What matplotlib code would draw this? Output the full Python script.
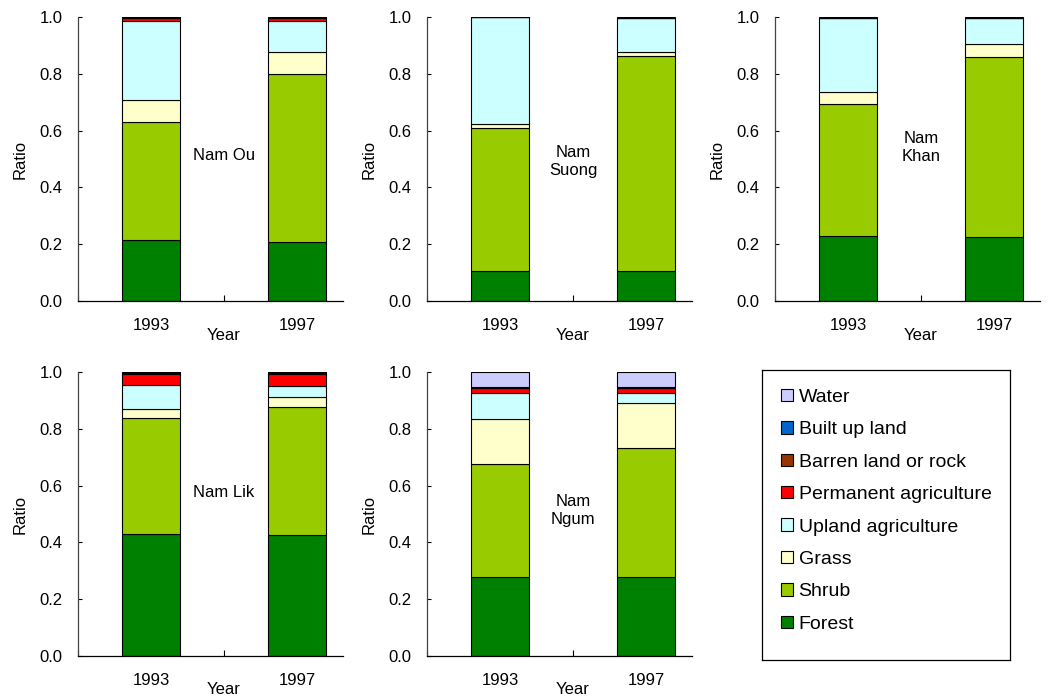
import matplotlib
matplotlib.use("Agg")
import matplotlib.pyplot as plt
from matplotlib.patches import Patch
import numpy as np

plt.rcParams['font.family'] = ['Liberation Sans', 'DejaVu Sans']

years = ["1993", "1997"]
classes = ["Forest", "Shrub", "Grass", "Upland agriculture", "Permanent agriculture",
           "Barren land or rock", "Built up land", "Water"]
colors = ["#008000", "#99CC00", "#FFFFCC", "#CCFFFF", "#FF0000", "#993300", "#0066CC", "#CCCCFF"]

# fractions per class (order as in `classes`), for 1993 and 1997
nam_ou = [[0.215, 0.208], [0.415, 0.592], [0.078, 0.078], [0.278, 0.108],
          [0.009, 0.009], [0.003, 0.003], [0.002, 0.002], [0.0, 0.0]]
nam_suong = [[0.106, 0.106], [0.502, 0.757], [0.014, 0.015], [0.378, 0.117],
             [0.0, 0.001], [0.0, 0.001], [0.0, 0.003], [0.0, 0.0]]
nam_khan = [[0.228, 0.225], [0.465, 0.635], [0.044, 0.044], [0.260, 0.092],
            [0.0, 0.0], [0.001, 0.001], [0.002, 0.003], [0.0, 0.0]]
nam_lik = [[0.430, 0.426], [0.407, 0.452], [0.033, 0.033], [0.084, 0.040],
           [0.038, 0.041], [0.003, 0.003], [0.005, 0.005], [0.0, 0.0]]
nam_ngum = [[0.278, 0.278], [0.397, 0.455], [0.159, 0.157], [0.091, 0.035],
            [0.018, 0.018], [0.002, 0.002], [0.003, 0.003], [0.052, 0.052]]

panels = [
    ("Nam Ou", nam_ou, 0.514),
    ("Nam\nSuong", nam_suong, 0.49),
    ("Nam\nKhan", nam_khan, 0.54),
    ("Nam Lik", nam_lik, 0.577),
    ("Nam\nNgum", nam_ngum, 0.514),
]

W, H = 1061, 698
fig = plt.figure(figsize=(W / 100, H / 100), dpi=100)

lefts = [78, 427, 775]
tops = [17, 372]
aw, ah = 265, 284

for i, (name, data, ty) in enumerate(panels):
    r, c = divmod(i, 3)
    l = lefts[c]
    t = tops[r]
    ax = fig.add_axes([l / W, 1 - (t + ah) / H, aw / W, ah / H])
    x = np.arange(len(years))
    bottom = np.zeros(len(years))
    for cls, col, vals in zip(classes, colors, data):
        vals = np.array(vals)
        ax.bar(x, vals, width=0.4, bottom=bottom, color=col, edgecolor="black",
               linewidth=0.8)
        bottom += vals
    ax.set_xlim(-0.5, 1.315)
    ax.set_ylim(0, 1.0)
    ax.set_yticks(np.arange(0, 1.01, 0.2))
    ax.set_yticklabels([f"{v:.1f}" for v in np.arange(0, 1.01, 0.2)])
    ax.set_xticks(x)
    ax.set_xticklabels(years)
    ax.set_xticks([-0.5, 0.5], minor=True)
    ax.tick_params(axis="x", which="major", length=0, pad=12, labelsize=12)
    ax.tick_params(axis="x", which="minor", direction="in", length=4, width=0.8)
    ax.tick_params(axis="y", direction="in", length=3, width=0.8, pad=11, labelsize=12)
    for s in ["top", "right"]:
        ax.spines[s].set_visible(False)
    ax.spines["left"].set_linewidth(0.9)
    ax.spines["bottom"].set_linewidth(0.9)
    ax.spines["left"].set_color("#444444")
    ax.text(-58 / aw, 0.5, "Ratio", rotation=90, ha="center", va="center",
            fontsize=12, transform=ax.transAxes)
    ax.text((224 - 78) / aw, -34 / ah, "Year", ha="center", va="center",
            fontsize=12, transform=ax.transAxes)
    ax.text(0.5, ty, name, ha="center", va="center", fontsize=12,
            linespacing=1.25)

# legend box
lax = fig.add_axes([762 / W, 1 - 660 / H, 248 / W, 290 / H])
lax.set_xticks([])
lax.set_yticks([])
for s in lax.spines.values():
    s.set_color("black")
    s.set_linewidth(0.9)
handles = [Patch(facecolor=col, edgecolor="black", linewidth=0.8, label=cls)
           for cls, col in zip(classes, colors)][::-1]
leg = lax.legend(handles=handles, loc="upper left", bbox_to_anchor=(0.03, 0.975),
                 frameon=False, fontsize=14, handlelength=0.6, handleheight=0.6,
                 handletextpad=0.3, labelspacing=0.79, borderaxespad=0.2)

fig.savefig("out.png", dpi=100)
